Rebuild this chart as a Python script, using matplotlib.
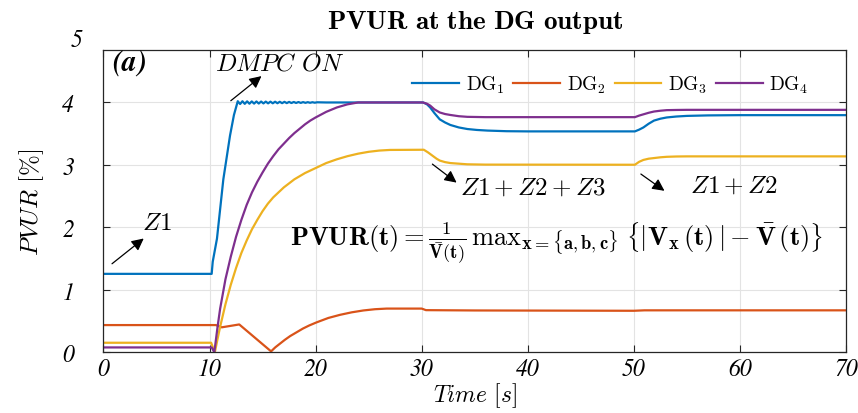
import matplotlib
matplotlib.use('Agg')
import matplotlib.pyplot as plt

plt.rcParams['mathtext.fontset'] = 'cm'

# Data (time in s, PVUR in %)
t_dg1 = [0, 10.2, 10.3, 10.7, 11.3, 11.93, 12.3, 12.66,
         12.88, 13.10, 13.32, 13.54, 13.76, 13.98, 14.20, 14.42, 14.64, 14.86,
         15.08, 15.30, 15.52, 15.74, 15.96, 16.18, 16.40, 16.62, 16.84, 17.06,
         17.28, 17.50, 17.72, 17.94, 18.16, 18.38, 18.60, 18.82, 19.04, 19.26,
         19.48, 19.70, 19.92, 20.14, 21.0,
         30.15, 30.5, 30.8, 31.2, 31.7, 32.2, 32.7, 33.5, 34.3, 35.2, 36.2, 38.0, 40.0,
         50.1, 50.5, 50.9, 51.4, 51.9, 52.5, 53.1, 54.0, 55.0, 57.0, 60.0, 70.0]
v_dg1 = [1.256, 1.256, 1.45, 1.82, 2.77, 3.47, 3.80, 4.02,
         3.975, 4.020, 3.978, 4.018, 3.980, 4.017, 3.982, 4.016, 3.983, 4.015,
         3.985, 4.014, 3.986, 4.013, 3.987, 4.012, 3.988, 4.011, 3.989, 4.010,
         3.990, 4.009, 3.991, 4.008, 3.992, 4.007, 3.993, 4.006, 3.994, 4.005,
         3.995, 4.004, 3.996, 4.003, 4.0,
         4.0, 3.97, 3.92, 3.83, 3.73, 3.68, 3.64, 3.60, 3.575, 3.56, 3.55, 3.54, 3.537,
         3.537, 3.565, 3.60, 3.66, 3.71, 3.74, 3.76, 3.775, 3.785, 3.793, 3.797, 3.797]

t_dg2 = [0, 10.6, 11.15, 12.8, 15.8, 16.2, 16.65, 17.1, 17.6, 18.2, 18.8, 19.4,
         20.1, 21.2, 22.3, 23.4, 24.5, 25.6, 26.7, 30.0, 30.4, 35.0, 50.0, 51.0, 70.0]
v_dg2 = [0.436, 0.436, 0.40, 0.446, 0.015, 0.08, 0.14, 0.20, 0.26, 0.32, 0.38, 0.43,
         0.48, 0.55, 0.60, 0.64, 0.67, 0.69, 0.70, 0.70, 0.675, 0.67, 0.665, 0.672, 0.672]

t_dg3 = [0, 10.15, 10.5, 10.75, 11.0, 11.5, 12.0, 12.5, 13.0, 13.5, 14.0, 14.5,
         15.0, 15.5, 16.0, 17.0, 18.0, 19.0, 20.0, 21.0, 22.0, 23.0, 24.0, 25.0,
         26.0, 27.0, 30.2, 30.6, 31.0, 31.4, 31.7, 32.2, 32.7, 33.5, 34.3, 36.0,
         50.1, 50.5, 50.9, 51.4, 51.9, 52.5, 53.1, 54.0, 55.0, 70.0]
v_dg3 = [0.153, 0.153, 0.0, 0.21, 0.41, 0.77, 1.08, 1.35, 1.59, 1.79, 1.97, 2.12,
         2.26, 2.38, 2.48, 2.64, 2.77, 2.87, 2.95, 3.03, 3.09, 3.14, 3.18, 3.21,
         3.23, 3.24, 3.243, 3.20, 3.15, 3.10, 3.07, 3.045, 3.03, 3.02, 3.01, 3.005,
         3.003, 3.05, 3.08, 3.10, 3.11, 3.122, 3.13, 3.135, 3.137, 3.137]

t_dg4 = [0, 10.2, 10.45, 10.75, 11.0, 11.5, 12.0, 12.5, 13.0, 13.5, 14.0, 14.5,
         15.0, 15.5, 16.0, 16.5, 17.0, 17.5, 18.0, 18.5, 19.0, 19.5, 20.0, 21.0,
         22.0, 23.0, 24.0, 30.1, 30.5, 30.8, 31.2, 31.7, 32.2, 32.7, 33.5, 34.3, 36.0,
         50.1, 50.5, 50.9, 51.4, 51.9, 52.5, 53.1, 54.0, 55.0, 70.0]
v_dg4 = [0.078, 0.078, 0.0, 0.40, 0.70, 1.17, 1.53, 1.85, 2.12, 2.36, 2.56, 2.73,
         2.88, 3.02, 3.14, 3.25, 3.34, 3.43, 3.51, 3.58, 3.65, 3.71, 3.76, 3.85,
         3.92, 3.97, 4.0, 4.0, 3.98, 3.95, 3.89, 3.84, 3.815, 3.80, 3.78, 3.77, 3.765,
         3.765, 3.79, 3.81, 3.835, 3.855, 3.868, 3.877, 3.88, 3.882, 3.882]

labels = [r'$\mathrm{DG}_1$', r'$\mathrm{DG}_2$', r'$\mathrm{DG}_3$', r'$\mathrm{DG}_4$']
colors = ['#0072BD', '#D95319', '#EDB120', '#7E2F8E']

fig = plt.figure(figsize=(8.58, 4.14), dpi=100)
ax = fig.add_axes([0.1206, 0.1466, 0.8654, 0.7302])

series = [(t_dg1, v_dg1), (t_dg2, v_dg2), (t_dg3, v_dg3), (t_dg4, v_dg4)]
for (t, v), lab, c in zip(series, labels, colors):
    ax.plot(t, v, color=c, lw=1.6, label=lab)

ax.set_xlim(0, 70)
ax.set_ylim(0, 4.84)
ax.set_xticks(range(0, 71, 10))
ax.set_yticks(range(0, 5))
ax.tick_params(which='both', direction='in', top=True, right=True,
               length=5, width=0.8, labelsize=17, color='#262626')
ax.tick_params(axis='y', pad=21)
ax.tick_params(axis='x', pad=4)
for lab in ax.get_xticklabels() + ax.get_yticklabels():
    lab.set_fontfamily('STIXGeneral')
    lab.set_fontstyle('italic')
# the "5" label sits above the top of the box
ax.text(-0.0283, 5, '5', transform=ax.get_yaxis_transform(),
        ha='right', va='center', fontsize=17, family='STIXGeneral',
        style='italic', clip_on=False)

ax.grid(True, color='#e3e3e3', lw=0.8)
ax.set_axisbelow(True)
for s in ax.spines.values():
    s.set_color('#262626')
    s.set_linewidth(0.9)

ax.set_xlabel(r'$Time\ [s]$', fontsize=17, labelpad=0)
ax.set_ylabel(r'$PVUR\ [\%]$', fontsize=18, labelpad=12)
ax.set_title(r'$\mathbf{PVUR\ at\ the\ DG\ output}$', fontsize=19.5, pad=16)

ax.legend(loc='center', bbox_to_anchor=(0.683, 0.885), ncol=4, frameon=False,
          fontsize=14, handlelength=2.4, handletextpad=0.35, columnspacing=0.45)

ax.text(0.8, 4.64, r'$\mathbfit{(a)}$', fontsize=21, va='center')
ax.text(10.5, 4.64, r'$DMPC\ ON$', fontsize=18, va='center')
ax.text(3.6, 2.09, r'$Z1$', fontsize=18, va='center')
ax.text(33.6, 2.66, r'$Z1+Z2+Z3$', fontsize=18, va='center')
ax.text(55.3, 2.69, r'$Z1+Z2$', fontsize=18, va='center')

arrow = dict(arrowstyle='-|>', color='black', lw=0.9, mutation_scale=18)
ax.annotate('', xy=(15.1, 4.45), xytext=(11.8, 4.0), arrowprops=arrow)
ax.annotate('', xy=(4.0, 1.85), xytext=(0.6, 1.39), arrowprops=arrow)
ax.annotate('', xy=(33.5, 2.69), xytext=(30.8, 3.04), arrowprops=arrow)
ax.annotate('', xy=(53.1, 2.56), xytext=(50.45, 2.88), arrowprops=arrow)

ax.text(17.6, 1.76,
        r'$\mathbf{PVUR}(\mathbf{t}) = \frac{\mathbf{1}}{\bar{\mathbf{V}}(\mathbf{t})}'
        r'\,\mathrm{max}_{\mathbf{x}=\{\mathbf{a},\mathbf{b},\mathbf{c}\}}\;'
        r'\left\{|\mathbf{V}_{\mathbf{x}}\,(\mathbf{t})\,| - \bar{\mathbf{V}}\,(\mathbf{t})\right\}$',
        fontsize=19, va='center')

fig.savefig('out.png', dpi=100)
